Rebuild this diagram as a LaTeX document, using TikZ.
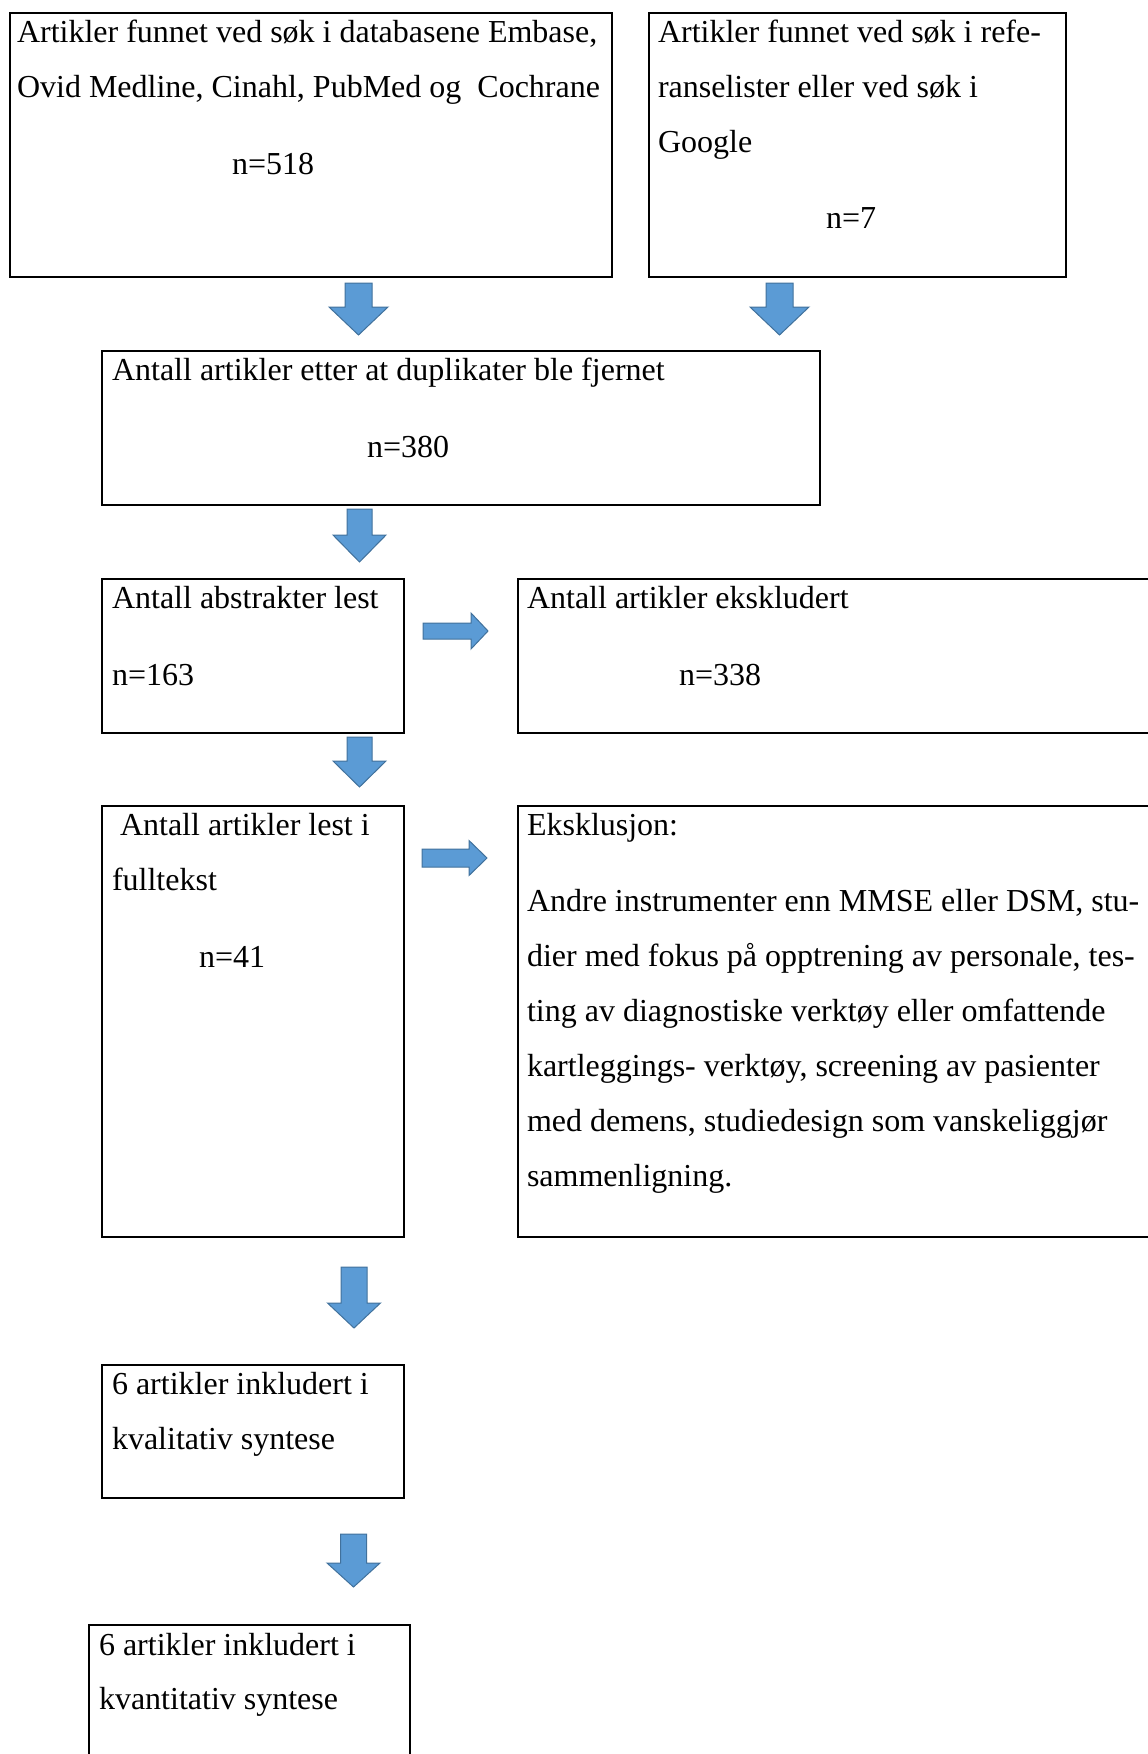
\documentclass[tikz,border=0pt]{standalone}
\usepackage{fontspec}
\setmainfont{Liberation Serif}
\definecolor{arrfill}{RGB}{91,155,213}
\definecolor{arrdraw}{RGB}{65,113,156}
\tikzset{
  flowbox/.style={draw=black, line width=1.9pt, inner sep=0pt, outer sep=0pt, anchor=north west, fill=none},
  txt/.style={inner sep=0pt, outer sep=0pt, anchor=base west, font=\fontsize{32}{55}\selectfont},
  blockarrow/.style={fill=arrfill, draw=arrdraw, line width=1pt, line join=miter}
}
% down arrow: cx, top, headbase, tip, shaft half, head half
\newcommand\downblock[6]{%
  \draw[blockarrow] (#1-#5,#2) -- (#1+#5,#2) -- (#1+#5,#3) -- (#1+#6,#3) -- (#1,#4) -- (#1-#6,#3) -- (#1-#5,#3) -- cycle;}
% right arrow: left, headbase, tip, cy, shaft half, head half
\newcommand\rightblock[6]{%
  \draw[blockarrow] (#1,#4-#5) -- (#2,#4-#5) -- (#2,#4-#6) -- (#3,#4) -- (#2,#4+#6) -- (#2,#4+#5) -- (#1,#4+#5) -- cycle;}
\begin{document}
\begin{tikzpicture}[x=1pt,y=-1pt]
\useasboundingbox (0,0) rectangle (1148,1754);
% boxes
\node[flowbox, minimum width=602pt, minimum height=264.3pt] (b1) at (10,12.7) {};
\node[flowbox, minimum width=417pt, minimum height=264.3pt] (b2) at (649,12.7) {};
\node[flowbox, minimum width=718pt, minimum height=154pt] (b3) at (102,351) {};
\node[flowbox, minimum width=302pt, minimum height=154pt] (b4) at (102,579) {};
\node[flowbox, minimum width=660pt, minimum height=154pt] (b5) at (518,579) {};
\node[flowbox, minimum width=302pt, minimum height=431pt] (b6) at (102,806) {};
\node[flowbox, minimum width=660pt, minimum height=431pt] (b7) at (518,806) {};
\node[flowbox, minimum width=302pt, minimum height=133pt] (b8) at (102,1365) {};
\node[flowbox, minimum width=321pt, minimum height=170pt] (b9) at (89,1625) {};
% texts
\node[txt] (t1a) at (17,42) {Artikler funnet ved søk i databasene Embase,};
\node[txt] (t1b) at (17,97) {Ovid Medline, Cinahl, PubMed og \ Cochrane};
\node[txt] (t1c) at (232,174) {n=518};
\node[txt] (t2a) at (658,42) {Artikler funnet ved søk i refe-};
\node[txt] (t2b) at (658,97) {ranselister eller ved søk i};
\node[txt] (t2c) at (658,152) {Google};
\node[txt] (t2d) at (826,228) {n=7};
\node[txt] (t3a) at (112,380) {Antall artikler etter at duplikater ble fjernet};
\node[txt] (t3b) at (367,457) {n=380};
\node[txt] (t4a) at (112,608) {Antall abstrakter lest};
\node[txt] (t4b) at (112,685) {n=163};
\node[txt] (t5a) at (527,608) {Antall artikler ekskludert};
\node[txt] (t5b) at (679,685) {n=338};
\node[txt] (t6a) at (120,835) {Antall artikler lest i};
\node[txt] (t6b) at (112,890) {fulltekst};
\node[txt] (t6c) at (199,967) {n=41};
\node[txt] (t7a) at (527,835) {Eksklusjon:};
\node[txt] (t7b) at (527,911) {Andre instrumenter enn MMSE eller DSM, stu-};
\node[txt] (t7c) at (527,966) {dier med fokus på opptrening av personale, tes-};
\node[txt] (t7d) at (527,1021) {ting av diagnostiske verktøy eller omfattende};
\node[txt] (t7e) at (527,1076) {kartleggings- verktøy, screening av pasienter};
\node[txt] (t7f) at (527,1131) {med demens, studiedesign som vanskeliggjør};
\node[txt] (t7g) at (527,1186) {sammenligning.};
\node[txt] (t8a) at (112,1394) {6 artikler inkludert i};
\node[txt] (t8b) at (112,1449) {kvalitativ syntese};
\node[txt] (t9a) at (99,1655) {6 artikler inkludert i};
\node[txt] (t9b) at (99,1709) {kvantitativ syntese};
% block arrows
\downblock{358.5}{283}{307}{335}{13.5}{29.5}
\downblock{779.5}{283}{307}{335}{13.5}{29.5}
\downblock{359.5}{509}{535}{562}{12.5}{26.5}
\downblock{359.5}{737}{761}{787}{12.5}{26.5}
\downblock{354}{1267}{1303}{1328}{13}{26.5}
\downblock{353.5}{1534}{1563}{1587}{13}{26.5}
\rightblock{423}{471}{488}{631}{8}{18}
\rightblock{422}{469}{487}{858}{9}{17.5}
\end{tikzpicture}
\end{document}
